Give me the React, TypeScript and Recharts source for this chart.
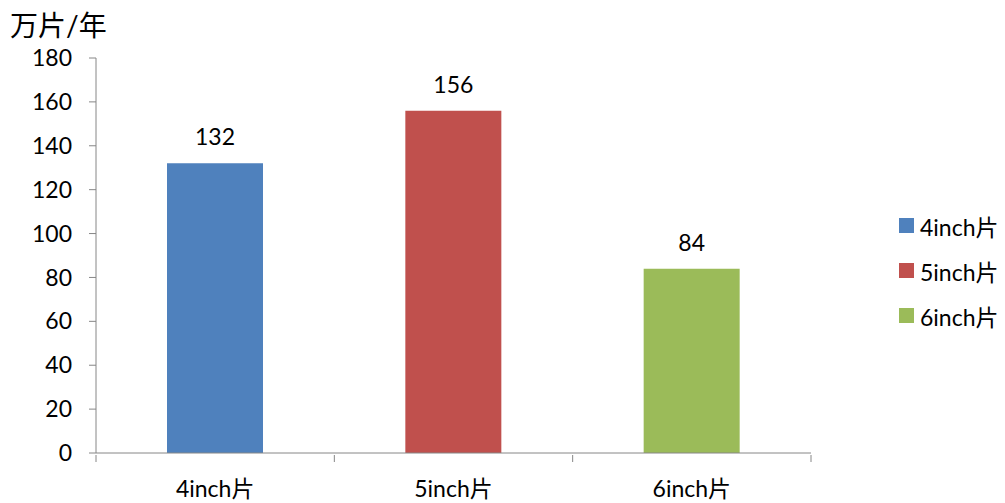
import { BarChart, Bar, XAxis, YAxis, Legend, LabelList } from 'recharts';

const categories = ['4inch片', '5inch片', '6inch片'];
const outputValues = [132, 156, 84];
const seriesColors = ['#4F81BD', '#C0504D', '#9BBB59'];
const yTicks = [0, 20, 40, 60, 80, 100, 120, 140, 160, 180];

const FONT = "Lato, 'Noto Sans CJK SC', sans-serif";
const AXIS_COLOR = '#868686';

// one row per category, each row only carries its own series key
const data = categories.map((name, i) => ({ name, [name]: outputValues[i] }));

function CategoryTick(props: any) {
  const { x, y, payload, index } = props;
  const half = payload?.offset ?? 0;
  const last = index === categories.length - 1;
  return (
    <g>
      <line x1={x - half} x2={x - half} y1={y} y2={y + 7} stroke={AXIS_COLOR} />
      {last && <line x1={x + half} x2={x + half} y1={y} y2={y + 7} stroke={AXIS_COLOR} />}
      <text x={x} y={y + 42} textAnchor="middle" fontSize={23} fill="#000" fontFamily={FONT}>
        {payload.value}
      </text>
    </g>
  );
}

function LegendList(props: any) {
  const { payload = [] } = props;
  return (
    <div style={{ fontFamily: FONT, fontSize: 23, color: '#000' }}>
      {payload.map((p: any) => (
        <div key={p.value} style={{ display: 'flex', alignItems: 'center', height: 45 }}>
          <span style={{ width: 15, height: 15, background: p.color, marginRight: 6 }} />
          <span>{p.value}</span>
        </div>
      ))}
    </div>
  );
}

export default function App() {
  return (
    <div style={{ position: 'absolute', left: 0, top: 0, width: 1005, height: 503, background: '#fff' }}>
      <div
        style={{
          position: 'absolute',
          left: 10,
          top: 10,
          fontFamily: FONT,
          fontSize: 28,
          lineHeight: '30px',
          color: '#000',
        }}
      >
        万片/年
      </div>
      <BarChart
        width={1005}
        height={503}
        data={data}
        margin={{ top: 58, right: 194, bottom: 0, left: 0 }}
        barSize={96}
      >
        <XAxis
          dataKey="name"
          height={50}
          axisLine={{ stroke: AXIS_COLOR }}
          tickLine={false}
          tickSize={0}
          tick={<CategoryTick />}
          interval={0}
        />
        <YAxis
          width={96}
          domain={[0, 180]}
          ticks={yTicks}
          interval={0}
          axisLine={{ stroke: AXIS_COLOR }}
          tickLine={{ stroke: AXIS_COLOR }}
          tickSize={7}
          tickMargin={17}
          tick={{ fontSize: 23, fill: '#000', fontFamily: FONT }}
        />
        <Legend
          layout="vertical"
          align="center"
          verticalAlign="middle"
          content={<LegendList />}
          wrapperStyle={{ left: 899, top: 203, width: 110 }}
        />
        {categories.map((name, i) => (
          <Bar key={name} dataKey={name} stackId="out" fill={seriesColors[i]} isAnimationActive={false}>
            <LabelList
              dataKey={name}
              position="top"
              offset={18}
              formatter={(v: any) => (v == null ? '' : v)}
              style={{ fontSize: 23, fill: '#000', fontFamily: FONT }}
            />
          </Bar>
        ))}
      </BarChart>
    </div>
  );
}
